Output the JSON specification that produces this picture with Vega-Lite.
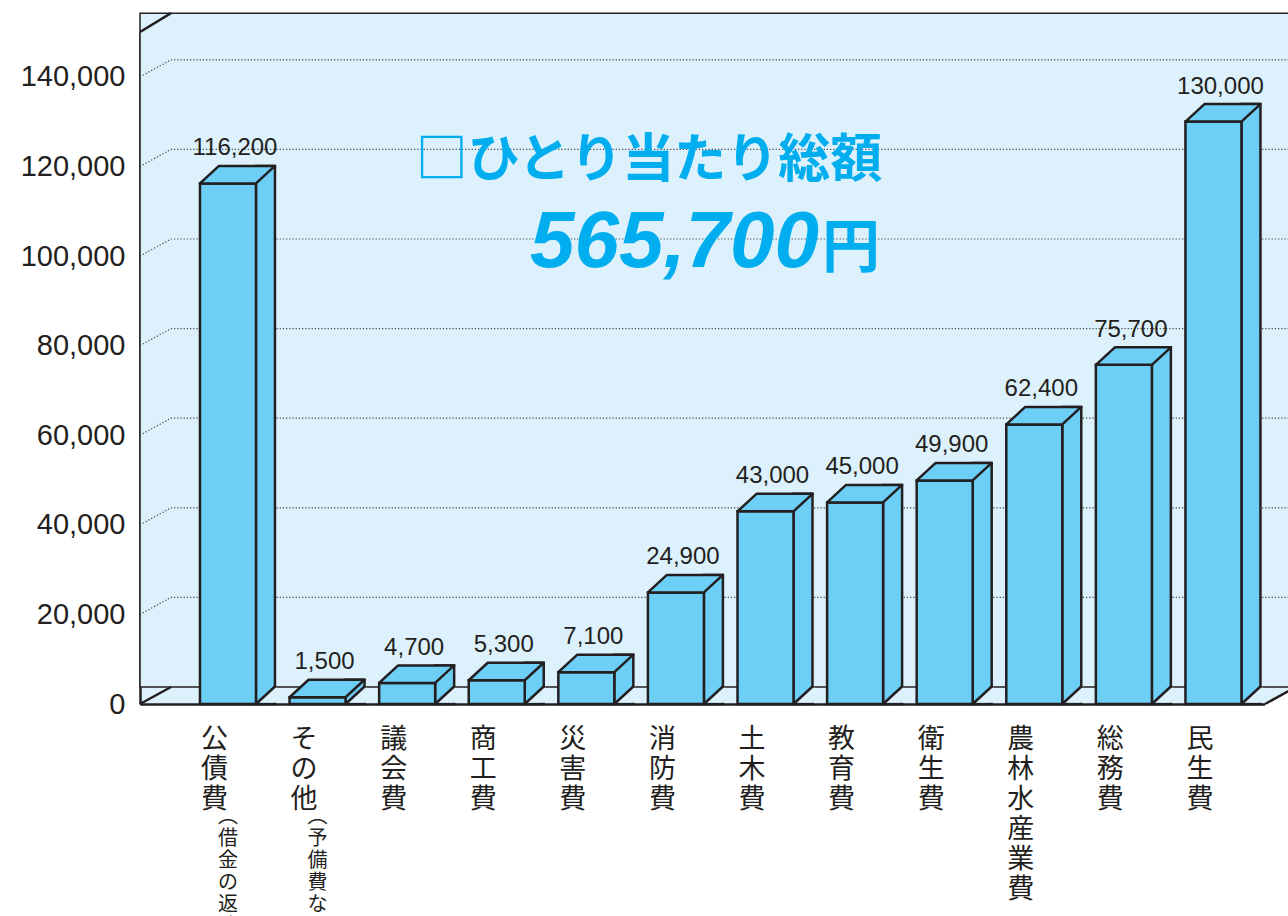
{
  "$schema": "https://vega.github.io/schema/vega-lite/v6.json",
  "autosize": {"type": "none"},
  "width": 1148,
  "height": 672,
  "padding": {"left": 140, "top": 32, "right": 0, "bottom": 212},
  "background": "white",
  "config": {"view": {"fill": "#dcf1fc", "stroke": null}, "font": "Liberation Sans"},
  "datasets": {
    "budget": [
      {"cat": "公債費", "value": 116200, "note": "︵借金の返済︶"},
      {"cat": "その他", "value": 1500, "note": "︵予備費など︶"},
      {"cat": "議会費", "value": 4700},
      {"cat": "商工費", "value": 5300},
      {"cat": "災害費", "value": 7100},
      {"cat": "消防費", "value": 24900},
      {"cat": "土木費", "value": 43000},
      {"cat": "教育費", "value": 45000},
      {"cat": "衛生費", "value": 49900},
      {"cat": "農林水産業費", "value": 62400},
      {"cat": "総務費", "value": 75700},
      {"cat": "民生費", "value": 130000}
    ],
    "grid": [
      {"v": 20000}, {"v": 40000}, {"v": 60000}, {"v": 80000},
      {"v": 100000}, {"v": 120000}, {"v": 140000}
    ],
    "one": [{"k": "frame"}]
  },
  "layer": [
    {
      "data": {"name": "one"},
      "mark": {"type": "rect", "fill": "#dcf1fc", "stroke": "#231f20", "strokeWidth": 1.5, "x2Offset": 31, "xOffset": 40, "y2Offset": -17},
      "encoding": {
        "y": {
          "datum": 154200, "type": "quantitative",
          "scale": {"domain": [0, 150000], "nice": false, "zero": true},
          "axis": {
            "title": null, "values": [0, 20000, 40000, 60000, 80000, 100000, 120000, 140000],
            "labelExpr": "format(datum.value, ',')", "grid": false, "ticks": false,
            "domainColor": "#231f20", "domainWidth": 2.5,
            "labelFont": "Liberation Sans", "labelFontSize": 29, "labelPadding": 15, "labelColor": "#231f20"
          }
        },
        "y2": {"datum": 0}
      }
    },
    {
      "data": {"name": "grid"},
      "mark": {"type": "point", "shape": "M-1,0L-0.946,-0.0296L1.2,-0.0296", "size": 1317904, "filled": false, "opacity": 1, "stroke": "#444444", "strokeWidth": 1.2, "strokeDash": [1.2, 2]},
      "encoding": {
        "y": {"field": "v", "type": "quantitative"}
      }
    },
    {
      "data": {"name": "one"},
      "mark": {"type": "point", "shape": "M-1,-1.1707L-0.946,-1.2035L-0.946,-1.1707Z", "size": 1317904, "filled": true, "opacity": 1, "fill": "#dcf1fc", "strokeWidth": 0},
      "encoding": {"y": {"datum": 0, "type": "quantitative"}}
    },
    {
      "data": {"name": "one"},
      "mark": {"type": "point", "shape": "M0.96,0L1.06,-0.0548L1.06,0.006L0.96,0.006Z", "size": 1317904, "filled": true, "opacity": 1, "fill": "white", "strokeWidth": 0},
      "encoding": {"y": {"datum": 0, "type": "quantitative"}}
    },
    {
      "data": {"name": "one"},
      "mark": {"type": "point", "shape": "M-1,-1.1707L-0.946,-1.2035M-1,0L-0.946,-0.0296M0.96,0L1.06,-0.0548", "size": 1317904, "filled": false, "opacity": 1, "stroke": "#231f20", "strokeWidth": 2.5},
      "encoding": {"y": {"datum": 0, "type": "quantitative"}}
    },
    {
      "data": {"name": "budget"},
      "mark": {"type": "bar", "width": 19, "xOffset": 37.5, "yOffset": -17.5, "fill": "#6dcff6", "stroke": "#231f20", "strokeWidth": 2.5},
      "encoding": {
        "x": {"field": "cat", "type": "nominal"},
        "y": {"field": "value", "type": "quantitative"},
        "y2": {"datum": 0}
      }
    },
    {
      "data": {"name": "budget"},
      "mark": {"type": "point", "shape": "M29.4,-1.3L45.9,-16.3L49.5,-16.3L49.5,-1.3Z", "size": 4, "filled": true, "opacity": 1, "fill": "#dcf1fc", "strokeWidth": 0},
      "encoding": {
        "x": {"field": "cat", "type": "nominal"},
        "y": {"datum": 0, "type": "quantitative"}
      }
    },
    {
      "data": {"name": "budget"},
      "mark": {"type": "point", "shape": "M28,0L47,-17.5", "size": 4, "filled": false, "opacity": 1, "stroke": "#231f20", "strokeWidth": 2.5},
      "encoding": {
        "x": {"field": "cat", "type": "nominal"},
        "y": {"datum": 0, "type": "quantitative"}
      }
    },
    {
      "data": {"name": "budget"},
      "mark": {"type": "bar", "width": 56, "fill": "#6dcff6", "stroke": "#231f20", "strokeWidth": 2.5},
      "encoding": {
        "x": {
          "field": "cat", "type": "nominal",
          "scale": {
            "domain": ["公債費", "その他", "議会費", "商工費", "災害費", "消防費", "土木費", "教育費", "衛生費", "農林水産業費", "総務費", "民生費"],
            "paddingInner": 0.375, "paddingOuter": 0.5945, "align": 0.563, "round": false
          },
          "axis": {
            "title": null, "labelExpr": "split(datum.label, '')", "labelAngle": 0,
            "labelFont": "Noto Sans CJK JP", "labelFontSize": 27, "labelLineHeight": 30,
            "labelBaseline": "top", "labelPadding": 22, "labelColor": "#231f20",
            "ticks": false, "domainColor": "#231f20", "domainWidth": 2.5, "labelLimit": 0
          }
        },
        "y": {
          "field": "value", "type": "quantitative",
          "axis": {
            "title": null, "values": [0, 20000, 40000, 60000, 80000, 100000, 120000, 140000],
            "labelExpr": "format(datum.value, ',')", "grid": false, "ticks": false,
            "domainColor": "#231f20", "domainWidth": 2.5,
            "labelFont": "Liberation Sans", "labelFontSize": 29, "labelPadding": 15, "labelColor": "#231f20"
          }
        },
        "y2": {"datum": 0}
      }
    },
    {
      "data": {"name": "budget"},
      "mark": {"type": "point", "shape": "M-28,0L28,0L47,-17.5L-9,-17.5Z", "size": 4, "filled": true, "opacity": 1, "fill": "#6dcff6", "stroke": "#231f20", "strokeWidth": 2.5, "strokeJoin": "round"},
      "encoding": {
        "x": {"field": "cat", "type": "nominal"},
        "y": {"field": "value", "type": "quantitative"}
      }
    },
    {
      "data": {"name": "budget"},
      "mark": {"type": "text", "font": "Liberation Sans", "fontSize": 24, "fill": "#231f20", "dx": 7, "yOffset": -28, "baseline": "alphabetic", "align": "center"},
      "encoding": {
        "x": {"field": "cat", "type": "nominal"},
        "y": {"field": "value", "type": "quantitative"},
        "text": {"field": "value", "type": "quantitative", "format": ","}
      }
    },
    {
      "data": {"name": "budget"},
      "transform": [
        {"filter": "isValid(datum.note)"},
        {"calculate": "split(datum.note, '')", "as": "chars"}
      ],
      "mark": {"type": "text", "font": "Noto Sans CJK JP", "fontSize": 20, "lineHeight": 22, "fill": "#231f20", "yOffset": 103, "baseline": "top", "align": "center"},
      "encoding": {
        "x": {"field": "cat", "type": "nominal"},
        "y": {"datum": 0, "type": "quantitative"},
        "text": {"field": "chars"}
      }
    },
    {
      "data": {"name": "one"},
      "mark": {"type": "text", "text": "□ひとり当たり総額", "font": "Noto Sans CJK JP", "fontSize": 52, "fontWeight": "bold", "fill": "#00aeef", "align": "center", "baseline": "alphabetic", "dx": -27},
      "encoding": {
        "x": {"datum": "消防費"},
        "y": {"datum": 117600, "type": "quantitative"}
      }
    },
    {
      "data": {"name": "one"},
      "mark": {"type": "text", "text": "565,700", "font": "Liberation Sans", "fontSize": 80, "fontWeight": "bold", "fontStyle": "italic", "fill": "#00aeef", "align": "right", "baseline": "alphabetic", "dx": -36},
      "encoding": {
        "x": {"datum": "教育費"},
        "y": {"datum": 97500, "type": "quantitative"}
      }
    },
    {
      "data": {"name": "one"},
      "mark": {"type": "text", "text": "円", "font": "Noto Sans CJK JP", "fontSize": 58, "fontWeight": "bold", "fill": "#00aeef", "align": "left", "baseline": "alphabetic", "dx": -33},
      "encoding": {
        "x": {"datum": "教育費"},
        "y": {"datum": 97500, "type": "quantitative"}
      }
    }
  ]
}
